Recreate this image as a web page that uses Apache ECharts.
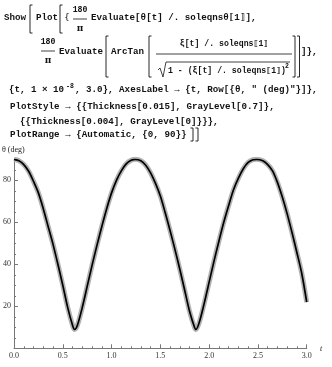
<!DOCTYPE html>
<html>
<head>
<meta charset="utf-8">
<script src="https://cdn.jsdelivr.net/npm/echarts@6/dist/echarts.min.js"></script>
<style>
  html, body { margin: 0; padding: 0; background: #fff; }
  #main { width: 332px; height: 367px; }
</style>
</head>
<body>
<div id="main"></div>
<script>
// values
var tValues = [0, 0.05, 0.1, 0.15, 0.2, 0.25, 0.3, 0.35, 0.4, 0.45, 0.5, 0.55, 0.6, 0.62,
  0.65, 0.7, 0.75, 0.8, 0.85, 0.9, 0.95, 1.0, 1.05, 1.1, 1.15, 1.2, 1.245,
  1.3, 1.35, 1.4, 1.45, 1.5, 1.55, 1.6, 1.65, 1.7, 1.75, 1.8, 1.85, 1.865,
  1.9, 1.95, 2.0, 2.05, 2.1, 2.15, 2.2, 2.25, 2.3, 2.35, 2.4, 2.45, 2.49,
  2.55, 2.6, 2.65, 2.7, 2.75, 2.8, 2.85, 2.9, 2.95, 3.0];
var thetaDeg = [90, 89.3, 87.5, 84.3, 79.5, 74, 66.5, 58, 49.5, 40, 30, 19.5, 11, 9,
  11, 19.5, 29.5, 39.5, 49, 58, 66.5, 74, 80, 84.5, 87.8, 89.5, 90,
  89.3, 87.2, 83.5, 78.5, 72.5, 64.5, 56, 47, 37.5, 27.5, 17.5, 10, 9,
  12.5, 21.5, 31.5, 41.5, 51, 60, 68, 75.5, 81, 85.5, 88.5, 89.8, 90,
  89.3, 87.5, 84.5, 79, 72, 64, 55, 45.5, 35.5, 22];
var yMajorTicks = [20, 40, 60, 80];

var pts = tValues.map(function (t, i) { return [t, thetaDeg[i]]; });

var mono = "bold 9.2px 'Liberation Mono', 'DejaVu Sans Mono', monospace";
var monoSmall = "bold 8.2px 'Liberation Mono', 'DejaVu Sans Mono', monospace";
var supFont = "bold 6.5px 'Liberation Mono', monospace";
var piFont = "bold 9px 'DejaVu Serif', serif";
var ink = '#111';

function txt(x, y, s, font) {
  return { type: 'text', x: x, y: y, style: { text: s, font: font || mono, fill: ink, verticalAlign: 'middle', align: 'left' } };
}
function ctxt(x, y, s, font) {
  return { type: 'text', x: x, y: y, style: { text: s, font: font || mono, fill: ink, verticalAlign: 'middle', align: 'center' } };
}
function line(x1, y1, x2, y2, w) {
  return { type: 'line', shape: { x1: x1, y1: y1, x2: x2, y2: y2 }, style: { stroke: ink, lineWidth: w || 0.8 } };
}
function lbr(x, top, bot) {
  return { type: 'polyline', shape: { points: [[x + 2.5, top], [x, top], [x, bot], [x + 2.5, bot]] }, style: { stroke: ink, lineWidth: 0.9, fill: null } };
}
function rbr(x, top, bot) {
  return { type: 'polyline', shape: { points: [[x - 2.5, top], [x, top], [x, bot], [x - 2.5, bot]] }, style: { stroke: ink, lineWidth: 0.9, fill: null } };
}

var code = [
  // line 1
  txt(4, 18, 'Show'),
  lbr(30, 5, 33),
  txt(36, 18, 'Plot'),
  lbr(60, 5, 33),
  txt(64, 18, '{', "9px 'DejaVu Sans'"),
  ctxt(80, 10, '180', monoSmall),
  line(73, 19, 87, 19),
  ctxt(80, 29, 'π', piFont),
  txt(91, 18, 'Evaluate[θ[t] /. soleqnsθ⟦1⟧],'),
  // line 2
  ctxt(48, 42, '180', monoSmall),
  line(41, 51, 55, 51),
  ctxt(48, 61, 'π', piFont),
  txt(59, 52, 'Evaluate'),
  lbr(106, 36, 77),
  txt(111, 52, 'ArcTan'),
  lbr(149, 36, 77),
  ctxt(224, 44, 'ξ[t] /. soleqns⟦1⟧', monoSmall),
  line(156, 54, 292, 54),
  { type: 'polyline', shape: { points: [[158, 70], [160, 68], [163, 77], [166, 62], [290, 62]] }, style: { stroke: ink, lineWidth: 0.8, fill: null } },
  txt(168, 70.5, '1 - (ξ[t] /. soleqns⟦1⟧)', monoSmall),
  txt(285, 66, '2', supFont),
  rbr(295, 36, 77),
  rbr(299.5, 36, 77),
  txt(301, 52, ']},'),
  // line 3
  txt(9, 90, '{t, 1 × 10'),
  txt(66, 86, '-8', supFont),
  txt(75, 90, ', 3.0}, AxesLabel → {t, Row[{θ, " (deg)"}]},'),
  // line 4
  txt(10, 107, 'PlotStyle → {{Thickness[0.015], GrayLevel[0.7]},'),
  // line 5
  txt(20, 121.5, '{{Thickness[0.004], GrayLevel[0]}}},'),
  // line 6
  txt(10, 134.5, 'PlotRange → {Automatic, {0, 90}}'),
  rbr(193, 128, 141),
  rbr(198, 128, 141)
];

var labels = [
  { type: 'text', x: 2, y: 150, style: { text: 'θ (deg)', font: "8px 'Liberation Serif', serif", fill: '#222', verticalAlign: 'middle' } },
  { type: 'text', x: 320, y: 349, style: { text: 't', font: "italic 8px 'Liberation Serif', serif", fill: '#222', verticalAlign: 'middle' } }
];

var axisColor = '#777';
var labelFont = { fontFamily: "'Liberation Serif', serif", fontSize: 8, color: '#333' };

var chart = echarts.init(document.getElementById('main'), null, { renderer: 'canvas' });
chart.setOption({
  animation: false,
  backgroundColor: '#fff',
  grid: { left: 12.7, right: 25.3, top: 159.3, bottom: 18.7, containLabel: false },
  xAxis: {
    type: 'value', min: 0, max: 3, interval: 0.5,
    axisLine: { onZero: false, lineStyle: { color: axisColor, width: 1 } },
    axisTick: { inside: true, length: 4, lineStyle: { color: axisColor } },
    minorTick: { show: true, splitNumber: 5, length: 2, lineStyle: { color: axisColor } },
    splitLine: { show: false },
    axisLabel: Object.assign({ margin: 4, formatter: function (v) { return v.toFixed(1); } }, labelFont)
  },
  yAxis: [{
    type: 'value', min: 0, max: 90, interval: 20,
    axisLine: { show: true, onZero: false, lineStyle: { color: axisColor, width: 1 } },
    axisTick: { inside: true, length: 4, lineStyle: { color: axisColor } },
    splitLine: { show: false },
    axisLabel: Object.assign({ margin: 3, formatter: function (v) { return yMajorTicks.indexOf(v) >= 0 ? String(v) : ''; } }, labelFont)
  }, {
    type: 'value', min: 0, max: 90, interval: 5, position: 'left',
    axisLine: { show: false },
    axisTick: { show: true, inside: true, length: 2, lineStyle: { color: axisColor } },
    splitLine: { show: false },
    axisLabel: { show: false }
  }],
  series: [{
    type: 'line', data: pts, showSymbol: false, smooth: 0.3,
    lineStyle: { color: '#b3b3b3', width: 5 }
  }, {
    type: 'line', data: pts, showSymbol: false, smooth: 0.3,
    lineStyle: { color: '#000', width: 1.7 }
  }],
  graphic: code.concat(labels)
});
</script>
</body>
</html>
